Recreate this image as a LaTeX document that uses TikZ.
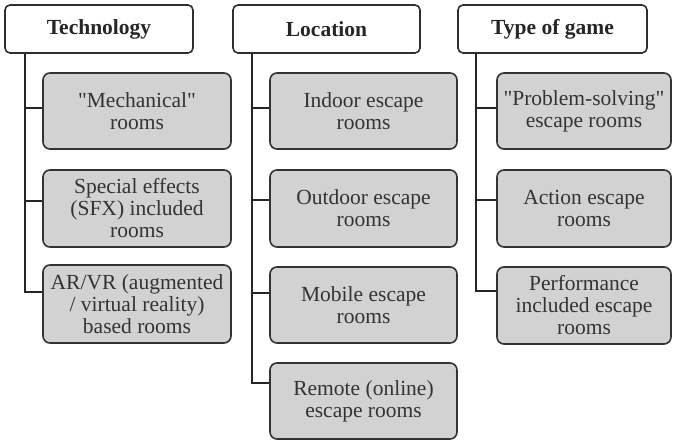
\documentclass[tikz,border=0pt]{standalone}
\usepackage{fontspec}
\setmainfont{Liberation Serif}[Ligatures=TeXOff]
\begin{document}
\begin{tikzpicture}[x=1pt,y=-1pt,
  hdr/.style={draw=black!82, line width=1.6pt, rounded corners=5pt, fill=white, text=black!85,
    font=\fontsize{21.5}{22}\selectfont\bfseries, inner sep=0pt, align=center, minimum height=48pt},
  item/.style={draw=black!80, line width=1.6pt, rounded corners=7pt, fill=gray!35, text=black!80,
    font=\fontsize{21.5}{22}\selectfont, inner sep=0pt, align=center},
  conn/.style={draw=black!85, line width=1.3pt}]
\useasboundingbox (0,0) rectangle (676,441);

% headers
\node[hdr, minimum width=188pt] (tech) at (99,29) {Technology};
\node[hdr, minimum width=187pt] (loc) at (326.5,29) {Location};
\node[hdr, minimum width=189pt] (game) at (552.5,29) {Type of game};

% Technology column
\node[item, minimum width=188pt, minimum height=76pt] (t1) at (137,111) {"Mechanical"\\rooms};
\node[item, minimum width=188pt, minimum height=77pt] (t2) at (137,208.5) {Special effects\\(SFX) included\\rooms};
\node[item, minimum width=188pt, minimum height=78pt] (t3) at (137,304) {AR/VR (augmented\\/ virtual reality)\\based rooms};

% Location column
\node[item, minimum width=187pt, minimum height=76pt] (l1) at (363.5,111) {Indoor escape\\rooms};
\node[item, minimum width=187pt, minimum height=77pt] (l2) at (363.5,208.5) {Outdoor escape\\rooms};
\node[item, minimum width=187pt, minimum height=76pt] (l3) at (363.5,305) {Mobile escape\\rooms};
\node[item, minimum width=187pt, minimum height=76pt] (l4) at (363.5,401) {Remote (online)\\escape rooms};

% Type of game column
\node[item, minimum width=174pt, minimum height=76pt] (g1) at (584,111) {"Problem-solving"\\escape rooms};
\node[item, minimum width=174pt, minimum height=77pt] (g2) at (584,208.5) {Action escape\\rooms};
\node[item, minimum width=174pt, minimum height=77pt] (g3) at (584,305.5) {Performance\\included escape\\rooms};

% trunk x positions
\coordinate (tv) at (25,53);
\coordinate (lv) at (252,53);
\coordinate (gv) at (476,53);

% connectors
\draw[conn] (tech.south -| tv) |- ([yshift=3pt]t1.west);
\draw[conn] (tech.south -| tv) |- ([yshift=7.5pt]t2.west);
\draw[conn] (tech.south -| tv) |- ([yshift=12pt]t3.west);

\draw[conn] (loc.south -| lv) |- ([yshift=3pt]l1.west);
\draw[conn] (loc.south -| lv) |- ([yshift=8.5pt]l2.west);
\draw[conn] (loc.south -| lv) |- ([yshift=12pt]l3.west);
\draw[conn] (loc.south -| lv) |- ([yshift=18pt]l4.west);

\draw[conn] (game.south -| gv) |- ([yshift=3pt]g1.west);
\draw[conn] (game.south -| gv) |- ([yshift=8.5pt]g2.west);
\draw[conn] (game.south -| gv) |- ([yshift=14.5pt]g3.west);
\end{tikzpicture}
\end{document}
